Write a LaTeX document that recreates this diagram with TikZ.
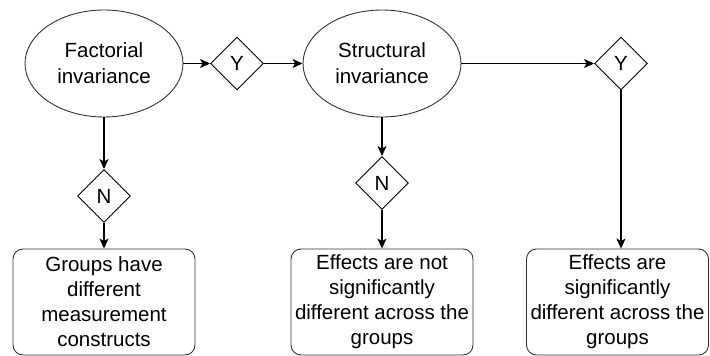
\documentclass[tikz,border=0pt]{standalone}
\usepackage{fontspec}
\setmainfont{Liberation Sans}
\usetikzlibrary{shapes.geometric,arrows.meta}
\begin{document}
\begin{tikzpicture}[x=1pt,y=-1pt,
  test/.style={ellipse,draw=black!80,line width=0.9pt,minimum width=158pt,minimum height=107pt,inner sep=0pt,align=center,font=\fontsize{20.5}{26}\selectfont},
  choice/.style={diamond,draw=black,line width=0.9pt,minimum size=53pt,aspect=1,inner sep=0pt,font=\fontsize{20.5}{25}\selectfont},
  outcome/.style={rectangle,rounded corners=10pt,draw=black!80,line width=0.9pt,minimum width=182pt,minimum height=106pt,inner sep=0pt,align=center,font=\fontsize{20.5}{25}\selectfont},
  link/.style={line width=1.2pt,-{Stealth[length=10pt,width=9pt,inset=2.5pt]}}]
\useasboundingbox (0,0) rectangle (710,356);
\node[test] (fi) at (104,63.5) {Factorial\\invariance};
\node[choice] (y1) at (237,63.5) {Y};
\node[test] (si) at (382,63.5) {Structural\\invariance};
\node[choice] (y2) at (621,63.5) {Y};
\node[choice] (n1) at (104,196) {N};
\node[choice] (n2) at (382,183) {N};
\node[outcome] (g) at (104,302) {Groups have\\different\\measurement\\constructs};
\node[outcome] (ns) at (382,302) {Effects are not\\significantly\\different across the\\groups};
\node[outcome] (s) at (617.5,302) {Effects are\\significantly\\different across the\\groups};
\draw[link] (fi) -- (y1);
\draw[link] (y1) -- (si);
\draw[link] (si) -- (y2);
\draw[link] (fi) -- (n1);
\draw[link] (n1) -- (g);
\draw[link] (si) -- (n2);
\draw[link] (n2) -- (ns);
\draw[link] (y2.south) -- (y2.south |- s.north);
\end{tikzpicture}
\end{document}
